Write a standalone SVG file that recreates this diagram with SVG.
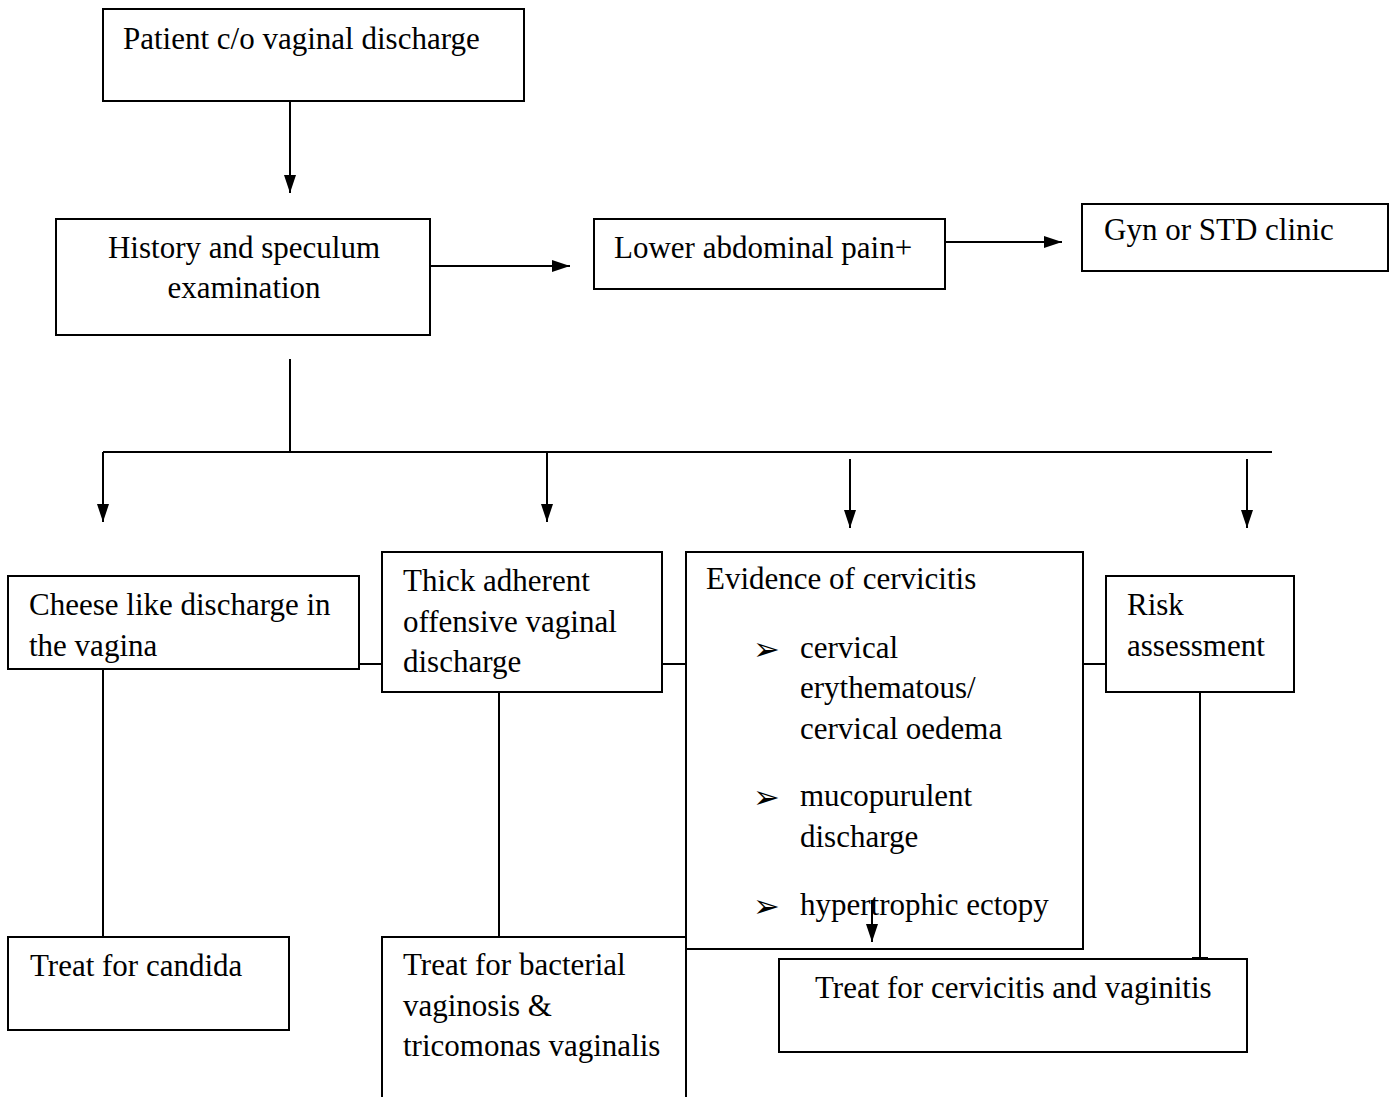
<svg xmlns="http://www.w3.org/2000/svg" width="1391" height="1097" viewBox="0 0 1391 1097">
<defs>
<style>
.box{fill:#fff;stroke:#000;stroke-width:2}
.t{font-family:"Liberation Serif","Times New Roman",serif;font-size:31px;fill:#000}
.b{font-family:"DejaVu Sans",sans-serif;font-size:32px;fill:#000}
.c{stroke:#000;stroke-width:2;fill:none}
</style>
<marker id="ah" markerUnits="userSpaceOnUse" markerWidth="18" markerHeight="12" refX="18" refY="6" orient="auto" viewBox="0 0 18 12">
<path d="M0,0 L18,6 L0,12 Z" fill="#000"/>
</marker>
</defs>
<rect width="1391" height="1097" fill="#fff"/>
<g id="connectors">
<line class="c" x1="290" y1="101" x2="290" y2="193" marker-end="url(#ah)"/>
<line class="c" x1="430" y1="266" x2="570" y2="266" marker-end="url(#ah)"/>
<line class="c" x1="945" y1="242" x2="1062" y2="242" marker-end="url(#ah)"/>
<line class="c" x1="290" y1="359" x2="290" y2="452"/>
<line class="c" x1="103" y1="452" x2="1272" y2="452" stroke-width="2.5"/>
<line class="c" x1="1015" y1="452" x2="1062" y2="452" stroke-width="3.5"/>
<line class="c" x1="103" y1="452" x2="103" y2="522" marker-end="url(#ah)"/>
<line class="c" x1="547" y1="452" x2="547" y2="522" marker-end="url(#ah)"/>
<line class="c" x1="850" y1="459" x2="850" y2="528" marker-end="url(#ah)"/>
<line class="c" x1="1247" y1="459" x2="1247" y2="528" marker-end="url(#ah)"/>
<line class="c" x1="359" y1="664" x2="382" y2="664"/>
<line class="c" x1="662" y1="664" x2="686" y2="664"/>
<line class="c" x1="1083" y1="664" x2="1106" y2="664"/>
<line class="c" x1="103" y1="669" x2="103" y2="937"/>
<line class="c" x1="499" y1="692" x2="499" y2="937"/>
<line class="c" x1="1200" y1="692" x2="1200" y2="959"/>
<line class="c" x1="1192" y1="958" x2="1208" y2="958"/>
</g>
<g id="n1"><rect class="box" x="103" y="9" width="421" height="92"/><text class="t" x="123" y="49">Patient c/o vaginal discharge</text></g>
<g id="n2"><rect class="box" x="56" y="219" width="374" height="116"/><text class="t" text-anchor="middle" x="244" y="258">History and speculum</text><text class="t" text-anchor="middle" x="244" y="298">examination</text></g>
<g id="n3"><rect class="box" x="594" y="219" width="351" height="70"/><text class="t" x="614" y="258">Lower abdominal pain+</text></g>
<g id="n4"><rect class="box" x="1082" y="204" width="306" height="67"/><text class="t" x="1104" y="240">Gyn or STD clinic</text></g>
<g id="n5"><rect class="box" x="8" y="576" width="351" height="93"/><text class="t" x="29" y="615">Cheese like discharge in</text><text class="t" x="29" y="656">the vagina</text></g>
<g id="n6"><rect class="box" x="382" y="552" width="280" height="140"/><text class="t" x="403" y="591">Thick adherent</text><text class="t" x="403" y="632">offensive vaginal</text><text class="t" x="403" y="672">discharge</text></g>
<g id="n7"><rect class="box" x="686" y="552" width="397" height="397"/>
<text class="t" x="706" y="589">Evidence of cervicitis</text>
<text class="b" x="753" y="660">➢</text><text class="t" x="800" y="658">cervical</text>
<text class="t" x="800" y="698">erythematous/</text>
<text class="t" x="800" y="739">cervical oedema</text>
<text class="b" x="753" y="808">➢</text><text class="t" x="800" y="806">mucopurulent</text>
<text class="t" x="800" y="847">discharge</text>
<text class="b" x="753" y="917">➢</text><text class="t" x="800" y="915">hypertrophic ectopy</text>
</g>
<g id="n8"><rect class="box" x="1106" y="576" width="188" height="116"/><text class="t" x="1127" y="615">Risk</text><text class="t" x="1127" y="656">assessment</text></g>
<g id="n9"><rect class="box" x="8" y="937" width="281" height="93"/><text class="t" x="30" y="976">Treat for candida</text></g>
<g id="n10"><path class="box" d="M382,1098 V937 H686 V1098"/><text class="t" x="403" y="975">Treat for bacterial</text><text class="t" x="403" y="1016">vaginosis &amp;</text><text class="t" x="403" y="1056">tricomonas vaginalis</text></g>
<g id="n11"><rect class="box" x="779" y="959" width="468" height="93"/><text class="t" x="815" y="998">Treat for cervicitis and vaginitis</text></g>
<g id="connectors-top">
<line class="c" x1="872" y1="900" x2="872" y2="942" marker-end="url(#ah)"/>
</g>
</svg>
